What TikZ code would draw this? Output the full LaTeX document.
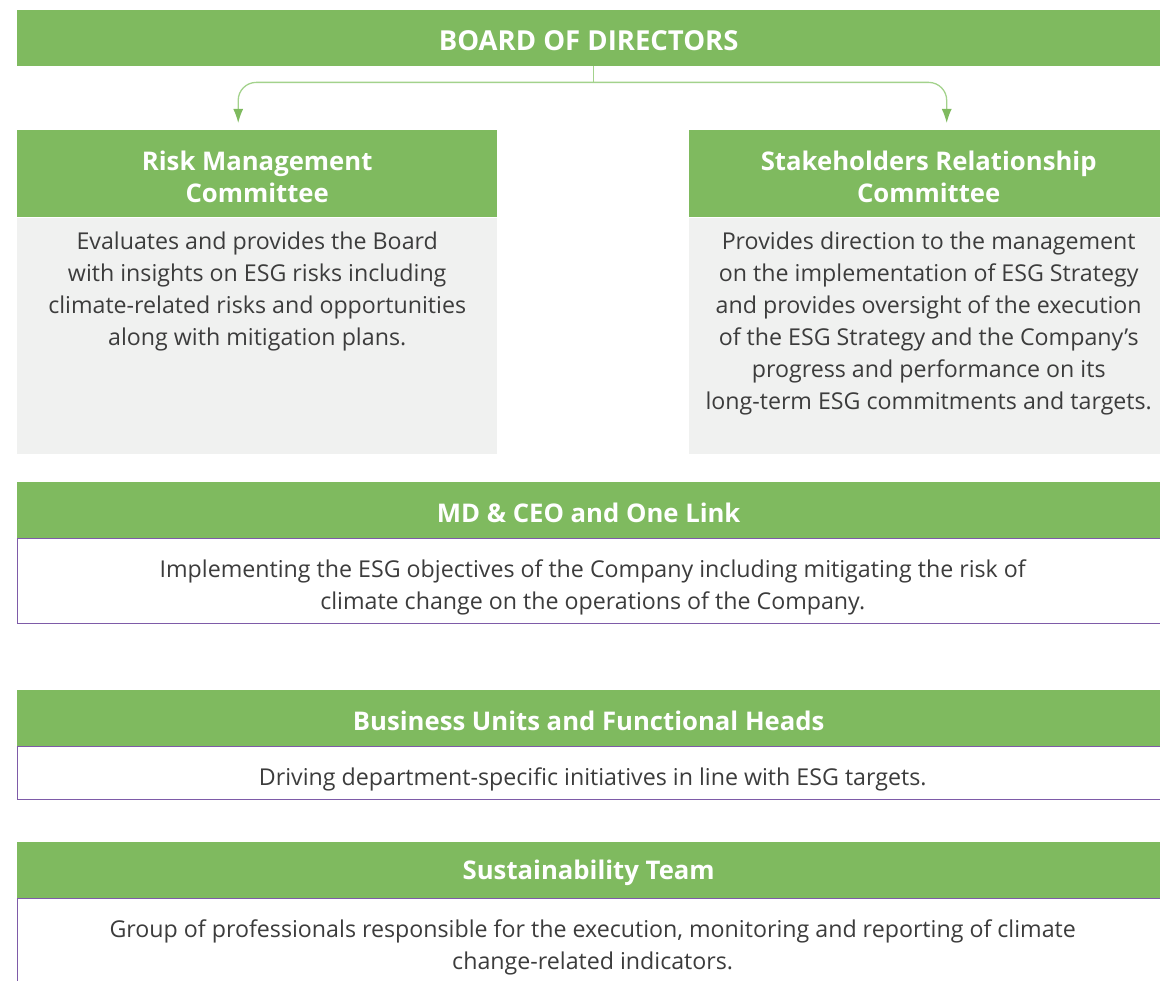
\documentclass[tikz,border=0pt]{standalone}
\usepackage{fontspec}
\setmainfont{Open Sans}
\usetikzlibrary{arrows.meta,positioning}
\definecolor{esggreen}{HTML}{7FBA5F}
\definecolor{esggrey}{HTML}{F0F1F0}
\definecolor{esgtext}{HTML}{3C3C3C}
\definecolor{esgline}{HTML}{A3D28C}
\definecolor{esgpurple}{HTML}{7E5BA8}
\begin{document}
\begin{tikzpicture}[x=1pt,y=-1pt,
  head/.style={fill=esggreen,inner sep=0pt,anchor=north west},
  htext/.style={text=white,font=\bfseries\fontsize{25.7}{32}\selectfont,align=center,inner sep=0pt,yshift=-3pt},
  gbody/.style={fill=esggrey,inner sep=0pt},
  wbody/.style={draw=esgpurple,line width=1pt,fill=white,inner sep=0pt,minimum width=1146},
  btext/.style={text=esgtext,font=\fontsize{23.2}{32}\selectfont,align=center,inner sep=0pt},
  conn/.style={draw=esgline,line width=1.3pt},
  arr/.style={conn,-{Latex[length=14pt,width=10pt,color=esggreen]},rounded corners=18pt}]
\useasboundingbox (0,0) rectangle (1160,981);
% board
\node[head,minimum width=1143,minimum height=56,label={[htext,yshift=1pt,font=\bfseries\fontsize{27.5}{32}\selectfont]center:BOARD OF DIRECTORS}] (board) at (17,10) {};
% committees
\node[head,minimum width=480,minimum height=87,label={[htext]center:{Risk Management\\Committee}}] (rkhead) at (17,130) {};
\node[gbody,minimum width=480,minimum height=236,below=0pt of rkhead] (rkbody) {};
\node[btext,below=14pt of rkhead] (rktext) {Evaluates and provides the Board\\with insights on ESG risks including\\climate-related risks and opportunities\\along with mitigation plans.};
\node[head,minimum width=471,minimum height=87,label={[htext,xshift=4pt]center:{Stakeholders Relationship\\Committee}}] (srhead) at (689,130) {};
\node[gbody,minimum width=471,minimum height=236,below=0pt of srhead] (srbody) {};
\node[btext,below=14pt of srhead,xshift=4pt] (srtext) {Provides direction to the management\\on the implementation of ESG Strategy\\and provides oversight of the execution\\of the ESG Strategy and the Company's\\progress and performance on its\\long-term ESG commitments and targets.};
% connectors
\draw[conn] ([xshift=4.5pt]board.south) -- ++(0,16) coordinate (split);
\draw[arr] (split) -| ([xshift=-19pt,yshift=7pt]rkhead.north);
\draw[arr] (split) -| ([xshift=22pt,yshift=7pt]srhead.north);
% md & ceo
\node[head,minimum width=1143,minimum height=56,label={[htext]center:MD \& CEO and One Link}] (mdhead) at (17,482) {};
\node[wbody,minimum height=85,below right=0pt and 0pt of mdhead.south west] (mdbody) {};
\node[btext,below=21pt of mdhead,xshift=4pt] (mdtext) {Implementing the ESG objectives of the Company including mitigating the risk of\\climate change on the operations of the Company.};
% business units
\node[head,minimum width=1143,minimum height=56,label={[htext]center:Business Units and Functional Heads}] (buhead) at (17,690) {};
\node[wbody,minimum height=53,below right=0pt and 0pt of buhead.south west] (bubody) {};
\node[btext,below=21pt of buhead,xshift=4pt] (butext) {Driving department-specific initiatives in line with ESG targets.};
% sustainability team
\node[head,minimum width=1143,minimum height=56,label={[htext]center:Sustainability Team}] (sthead) at (17,842) {};
\node[wbody,minimum height=110,below right=0pt and 0pt of sthead.south west] (stbody) {};
\node[btext,below=21pt of sthead,xshift=4pt] (sttext) {Group of professionals responsible for the execution, monitoring and reporting of climate\\change-related indicators.};
\end{tikzpicture}
\end{document}
